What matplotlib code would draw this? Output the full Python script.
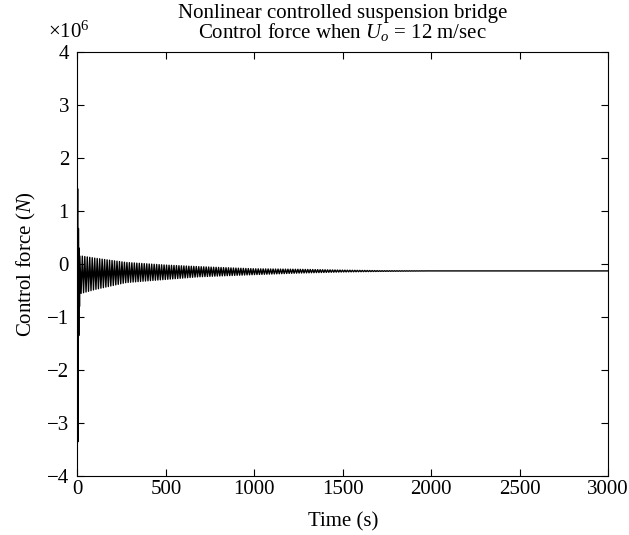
import numpy as np
import matplotlib
matplotlib.use("Agg")
import matplotlib.pyplot as plt
from matplotlib.ticker import FuncFormatter

# ---- data (force in newtons, time in seconds) ----
# initial transient peaks
transient_time = [0, 1.5, 4, 6, 8, 10, 12]
transient_force = [0.0, 1.42e6, -3.35e6, 0.67e6, -1.35e6, 0.30e6, -0.80e6]

# envelope of the decaying oscillation (upper / lower peaks)
env_time = [14, 25, 100, 275, 500, 690, 1000, 1256, 1500, 1700, 2000, 3000]
env_upper = [0.15e6, 0.15e6, 0.11e6, 0.03e6, -0.02e6, -0.05e6, -0.09e6, -0.10e6, -0.115e6, -0.125e6, -0.13e6, -0.13e6]
env_lower = [-0.56e6, -0.55e6, -0.48e6, -0.35e6, -0.29e6, -0.24e6, -0.20e6, -0.17e6, -0.15e6, -0.14e6, -0.13e6, -0.13e6]
osc_period = 14.0  # seconds

x_ticks = [0, 500, 1000, 1500, 2000, 2500, 3000]
y_ticks = [-4e6, -3e6, -2e6, -1e6, 0, 1e6, 2e6, 3e6, 4e6]
y_scale = 1e6

# ---- build the oscillating trace from the peaks ----
half = osc_period / 2
peak_t = np.arange(env_time[0], env_time[-1] + half, half)
up = np.interp(peak_t, env_time, env_upper)
lo = np.interp(peak_t, env_time, env_lower)
osc_force = np.where(np.arange(len(peak_t)) % 2 == 0, up, lo)
t_all = np.concatenate([transient_time, peak_t])
f_all = np.concatenate([transient_force, osc_force])

plt.rcParams['font.family'] = ['Liberation Serif', 'DejaVu Serif']
plt.rcParams['mathtext.fontset'] = 'custom'
plt.rcParams['mathtext.rm'] = 'Liberation Serif'
plt.rcParams['mathtext.it'] = 'Liberation Serif:italic'

FS = 15
fig = plt.figure(figsize=(6.29, 5.35), dpi=100)
ax = fig.add_axes([0.123, 0.110, 0.844, 0.793])
ax.plot(t_all, f_all, color='black', lw=1.0)

ax.set_xlim(0, 3000)
ax.set_ylim(-4e6, 4e6)
ax.set_xticks(x_ticks)
ax.set_yticks(y_ticks)
ax.yaxis.set_major_formatter(FuncFormatter(
    lambda v, p: ('%d' % round(v / y_scale)).replace('-', '\u2212')))
ax.tick_params(direction='in', top=True, right=True, labelsize=FS, length=5, width=0.8)
ax.tick_params(axis='x', pad=3)
ax.tick_params(axis='y', pad=6)
for s in ax.spines.values():
    s.set_linewidth(0.8)

ax.text(-0.055, 1.022, r'$\times$10$^{6}$', transform=ax.transAxes, fontsize=FS,
        ha='left', va='bottom')

ax.set_xlabel('Time (s)', fontsize=FS, labelpad=9)
ax.set_ylabel('Control force ($N$)', fontsize=FS, labelpad=6)
ax.set_title('Nonlinear controlled suspension bridge\nControl force when $U_o$ = 12 m/sec',
             fontsize=FS, linespacing=0.9, pad=10)

fig.savefig('out.png', dpi=100)
